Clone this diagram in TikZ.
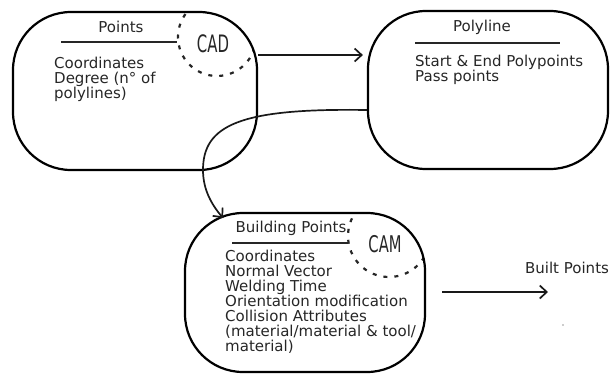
\documentclass[tikz,border=0pt]{standalone}
\usepackage{fontspec}
\setmainfont{DejaVu Sans}
\usetikzlibrary{arrows.meta}
\tikzset{
  box/.style={draw=black, line width=2.2pt, rounded corners=58pt, minimum width=244pt, minimum height=158pt, inner sep=0pt},
  sep/.style={line width=2.2pt, draw=black!85},
  dcirc/.style={draw=black!85, line width=2.2pt, dash pattern=on 4pt off 7pt},
  txt/.style={font=\fontsize{15}{15}\selectfont, text=black!85, inner sep=0pt},
  big/.style={text=black!85, inner sep=0pt},
  conn/.style={draw=black!90, line width=1.7pt, -{Straight Barb[length=7pt,width=13pt,line width=1.7pt]}},
}
\begin{document}
\begin{tikzpicture}[x=1pt,y=-1pt]
\useasboundingbox (0,0) rectangle (611,373);
% dashed circles clipped to boxes
\begin{scope}
  \clip[rounded corners=58pt] (13,12) rectangle (257,170);
  \draw[dcirc] (217,37) circle (39);
\end{scope}
\begin{scope}
  \clip[rounded corners=58pt] (185,213) rectangle (425,372);
  \draw[dcirc] (389,236) circle (41);
\end{scope}
% boxes
\node[box] (b1) at (135,91) {};
\node[box, minimum width=240pt] (b2) at (488,90) {};
\node[box, minimum width=240pt, minimum height=159pt] (b3) at (305,292.5) {};
% titles and separators
\node[txt, anchor=base] (t1) at (121,32) {Points};
\draw[sep] (61,42) -- (177,42);
\node[txt, anchor=base] (t2) at (482,31) {Polyline};
\draw[sep] (415,43) -- (560,43);
\node[txt, anchor=base] (t3) at (291,232) {Building Points};
\draw[sep] (232,243) -- (348,243);
% contents (base anchor = last line's baseline)
\node[txt, anchor=base west, align=left] (l1) at (54,98) {Coordinates\\Degree (n° of\\polylines)};
\node[txt, anchor=base west, align=left] (l2) at (415,81) {Start \& End Polypoints\\Pass points};
\node[txt, anchor=base west, align=left] (l3) at (225,351) {Coordinates\\Normal Vector\\Welding Time\\Orientation modification\\Collision Attributes\\(material/material \& tool/\\material)};
% CAD / CAM
\node[big] (cad) at (213,44) {\scalebox{0.62}[1]{\fontsize{24}{24}\selectfont CAD}};
\node[big] (cam) at (385,244) {\scalebox{0.64}[1]{\fontsize{23}{23}\selectfont CAM}};
% output
\node[txt, anchor=base] (bp) at (567,273) {Built Points};
\coordinate (o1) at (442,292);
\coordinate (o2) at (548,292);
\fill[black!40] (563,325) circle (0.8);
% connectors
\coordinate (e3) at (223,218);
\draw[conn] (b1.east |- 0,55) -- ([xshift=-4pt]b2.west |- 0,55);
\draw[conn] (b2.west |- 0,110) .. controls (240,108) and (203,125) .. (203,170) .. controls (203,190) and (212,205) .. (e3);
\draw[conn] (o1) -- (o2);
\end{tikzpicture}
\end{document}
